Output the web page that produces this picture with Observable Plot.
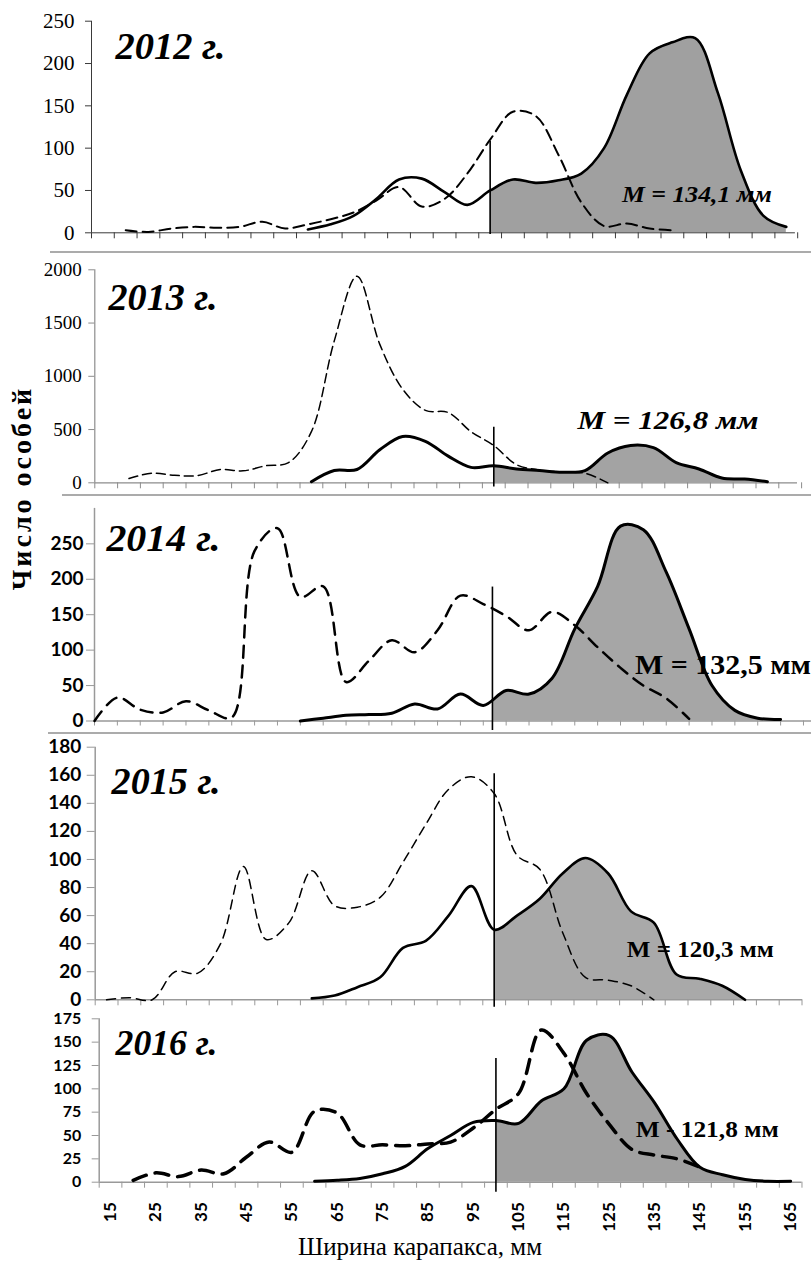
<!DOCTYPE html>
<html lang="ru">
<head>
<meta charset="utf-8">
<script src="https://cdn.jsdelivr.net/npm/d3@7"></script>
<script src="https://cdn.jsdelivr.net/npm/@observablehq/plot@0.6"></script>
<style>
  html, body { margin: 0; padding: 0; background: #fff; }
  #root { position: relative; width: 811px; height: 1263px; overflow: hidden; background: #fff; }
  .sep { position: absolute; height: 0; border-top: 2px solid #ababab; }
</style>
</head>
<body>
<div id="root"></div>
<script>
// ---------------- DATA ----------------
const sizes = [15,20,25,30,35,40,45,50,55,60,65,70,75,80,85,90,95,100,105,110,115,120,125,130,135,140,145,150,155,160,165];
const xLabels = [15,25,35,45,55,65,75,85,95,105,115,125,135,145,155,165];
const years = ["2012 г.", "2013 г.", "2014 г.", "2015 г.", "2016 г."];
const meanLabels = ["M = 134,1 мм", "M = 126,8 мм", "M = 132,5 мм", "M = 120,3 мм", "M - 121,8 мм"];
const cutSize = [100, 100, 102, 100, 100];

const yTicks2012 = [0,50,100,150,200,250];
const yTicks2013 = [0,500,1000,1500,2000];
const yTicks2014 = [0,50,100,150,200,250];
const yTicks2015 = [0,20,40,60,80,100,120,140,160,180];
const yTicks2016 = [0,25,50,75,100,125,150,175];

const dashed2012 = [null,3,1,5,7,6,7,13,5,10,16,24,38,54,31,40,70,110,143,138,92,36,8,11,5,3,null,null,null,null,null];
const solid2012  = [null,null,null,null,null,null,null,null,null,4,10,20,40,63,64,48,33,50,63,59,62,70,100,163,212,225,230,165,74,20,7];

const dashed2013 = [null,40,90,70,68,125,112,160,190,480,1330,1940,1300,880,680,660,480,350,170,120,100,90,0,null,null,null,null,null,null,null,null];
const solid2013  = [null,null,null,null,null,null,null,null,null,10,115,125,310,435,390,250,145,160,130,115,100,115,280,350,330,190,130,45,35,10,null];

const dashed2014 = [0,33,16,12,28,15,5,240,272,175,190,55,85,114,97,128,177,165,148,128,154,135,104,75,50,32,3,null,null,null,null];
const solid2014  = [null,null,null,null,null,null,null,null,null,0,4,8,9,11,24,17,38,22,43,38,60,130,190,275,270,210,130,50,15,4,2];

const dashed2015 = [0,1.5,0,20,19,40,95,43,55,92,67,66,73,98,125,150,159,147,103,93,48,16,14,10,0,null,null,null,null,null,null];
const solid2015  = [null,null,null,null,null,null,null,null,null,1,3,9,16,37,42,60,81,50,60,72,90,101,90,63,55,18,15,10,0,null,null];

const dashed2016 = [null,2,10,6,13,9,27,43,32,76,74,40,40,39,41,43,58,78,95,163,138,95,62,35,29,25,16,null,null,null,null];
const solid2016  = [null,null,null,null,null,null,null,null,null,1,2,4,9,17,36,50,64,66,63,87,100,152,157,118,85,46,16,8,3,1,1];

const series = [
  {dashed: dashed2012, solid: solid2012, yTicks: yTicks2012},
  {dashed: dashed2013, solid: solid2013, yTicks: yTicks2013},
  {dashed: dashed2014, solid: solid2014, yTicks: yTicks2014},
  {dashed: dashed2015, solid: solid2015, yTicks: yTicks2015},
  {dashed: dashed2016, solid: solid2016, yTicks: yTicks2016}
];

// ---------------- LAYOUT / STYLE ----------------
const serif = "'Liberation Serif', 'Times New Roman', serif";
const sans = "Lato, 'Open Sans', sans-serif";

const layout = [
  {top: 0, height: 247, left: 91, step: 22.78, yMax: 250, yMaxPx: 20.7, y0Px: 232.3, onTick: false,
   axisColor: "#3a3a3a", axisW: 1, axisFont: serif, axisSize: 21, axisWeight: "normal", xTick: 6, yTick: 6, yPad: 11,
   fill: "#a0a0a0", solidW: 2.6, dashW: 2, dash: "11,6", axisEnd: 167,
   cutBottom: -2, cutTop: 108,
   yearPos: [17.76, 205.9], yearSize: 38, yearW: 110,
   mPos: [145.4, 36.2], mSize: 24, mW: 150, mItalic: true},
  {top: 254, height: 240, left: 94.3, step: 22.8, yMax: 2000, yMaxPx: 269.3, y0Px: 482.3, onTick: false,
   axisColor: "#8c8c8c", axisW: 1.2, axisFont: serif, axisSize: 19, axisWeight: "normal", xTick: 6, yTick: 6, yPad: 7,
   fill: "#a3a3a3", solidW: 3, dashW: 1.5, dash: "9,5", axisEnd: 166.6,
   cutBottom: -40, cutTop: 522,
   yearPos: [15.5, 1618], yearSize: 38, yearW: 109,
   mPos: [138.2, 507], mSize: 26, mW: 181, mItalic: true},
  {top: 497, height: 236, left: 94, step: 22.87, yMax: 300, yMaxPx: 507.9, y0Px: 720.5, onTick: true,
   axisColor: "#999999", axisW: 1.5, axisFont: sans, axisSize: 19, axisWeight: "bold", xTick: 5, yTick: 8, yPad: 3,
   fill: "#a6a6a6", solidW: 3, dashW: 2.5, dash: "12,8", axisEnd: 171.8,
   cutBottom: -13.4, cutTop: 189,
   yearPos: [17.6, 240.5], yearSize: 38, yearW: 114,
   mPos: [152.4, 67], mSize: 27, mW: 176, mItalic: false},
  {top: 735, height: 275, left: 94.7, step: 22.8, yMax: 180, yMaxPx: 746.7, y0Px: 999.3, onTick: false,
   axisColor: "#999999", axisW: 1.5, axisFont: sans, axisSize: 19, axisWeight: "bold", xTick: 6, yTick: 8, yPad: 6,
   fill: "#a9a9a9", solidW: 2.6, dashW: 1.5, dash: "9,6", axisEnd: 167.6,
   cutBottom: -5.3, cutTop: 161,
   yearPos: [16.1, 147], yearSize: 38, yearW: 109,
   mPos: [145.2, 30.3], mSize: 23, mW: 147, mItalic: false},
  {top: 1008, height: 232, left: 98.7, step: 22.67, yMax: 175, yMaxPx: 1018.3, y0Px: 1181.7, onTick: false,
   axisColor: "#999999", axisW: 1.5, axisFont: sans, axisSize: 16, axisWeight: "bold", xTick: 6, yTick: 7, yPad: 11,
   fill: "#a0a0a0", solidW: 3, dashW: 3.5, dash: "14,9", axisEnd: 167.5,
   cutBottom: -10.7, cutTop: 132.5,
   yearPos: [16.1, 135.7], yearSize: 36, yearW: 102,
   mPos: [146.6, 48.2], mSize: 23, mW: 143, mItalic: false}
];

const root = document.getElementById("root");
const NS = "http://www.w3.org/2000/svg";
const toRows = arr => sizes.map((size, k) => ({size, v: arr[k]})).filter(d => d.v != null);

layout.forEach((L, i) => {
  const S = series[i];
  const dashedRows = toRows(S.dashed);
  const solidRows = toRows(S.solid);
  const x0 = L.onTick ? 15 : 12.5;
  const boundaries = sizes.map(s => L.onTick ? s : s - 2.5).concat([x0 + 155]);
  const marks = [
    Plot.areaY(solidRows, {x: "size", y: "v", curve: "catmull-rom", fill: L.fill}),
    Plot.ruleY([0], {x1: x0, x2: L.axisEnd, stroke: L.axisColor, strokeWidth: L.axisW}),
    Plot.ruleX([x0], {y1: 0, y2: L.yMax, stroke: L.axisColor, strokeWidth: L.axisW}),
    Plot.axisX(boundaries, {tickSize: L.xTick, stroke: L.axisColor, fill: "none", label: null}),
    Plot.axisY(S.yTicks, {tickSize: L.yTick, tickPadding: L.yPad, stroke: L.axisColor, fill: "#000",
      tickFormat: d => String(d), label: null}),
    Plot.lineY(dashedRows, {x: "size", y: "v", curve: "catmull-rom", stroke: "#000",
      strokeWidth: L.dashW, strokeDasharray: L.dash}),
    Plot.lineY(solidRows, {x: "size", y: "v", curve: "catmull-rom", stroke: "#000",
      strokeWidth: L.solidW, strokeLinejoin: "round"}),
    Plot.ruleX([cutSize[i]], {y1: () => L.cutBottom, y2: () => L.cutTop, stroke: "#000", strokeWidth: 1.6}),
    Plot.text([years[i]], {x: () => L.yearPos[0], y: () => L.yearPos[1], text: d => d,
      textAnchor: "start", lineAnchor: "bottom", fontFamily: serif, fontSize: L.yearSize,
      fontWeight: "bold", fontStyle: "italic", fill: "#000"}),
    Plot.text([meanLabels[i]], {x: () => L.mPos[0], y: () => L.mPos[1], text: d => d,
      textAnchor: "middle", lineAnchor: "bottom", fontFamily: serif, fontSize: L.mSize,
      fontWeight: "bold", fontStyle: L.mItalic ? "italic" : "normal", fill: "#000"})
  ];
  if (i === 4) {
    marks.push(Plot.axisX(xLabels, {tickSize: 0, tickPadding: 20, tickRotate: -90, fontFamily: sans,
      fontSize: 17, fontWeight: "bold", fill: "#000", label: null}));
  }
  const svg = Plot.plot({
    width: 811,
    height: L.height,
    marginLeft: L.left,
    marginRight: 811 - (L.left + 31 * L.step),
    marginTop: L.yMaxPx - L.top,
    marginBottom: L.top + L.height - L.y0Px,
    x: {domain: [x0, x0 + 155]},
    y: {domain: [0, L.yMax]},
    style: {background: "transparent", overflow: "visible", fontFamily: L.axisFont,
      fontSize: L.axisSize + "px", fontWeight: L.axisWeight, color: "#000"},
    marks
  });
  // clip the grey fill to the right of the 100-mm line
  const cx = svg.scale("x").apply(cutSize[i]);
  const defs = document.createElementNS(NS, "defs");
  const cp = document.createElementNS(NS, "clipPath");
  cp.setAttribute("id", "cut" + i);
  const r = document.createElementNS(NS, "rect");
  r.setAttribute("x", cx); r.setAttribute("y", -50);
  r.setAttribute("width", 900); r.setAttribute("height", L.height + 100);
  cp.appendChild(r); defs.appendChild(cp);
  svg.insertBefore(defs, svg.firstChild);
  const areaG = svg.querySelector('g[aria-label="area"]');
  if (areaG) areaG.setAttribute("clip-path", `url(#cut${i})`);
  // fit label widths
  svg.querySelectorAll("text").forEach(t => {
    if (t.textContent === years[i]) { t.setAttribute("textLength", L.yearW); t.setAttribute("lengthAdjust", "spacingAndGlyphs"); }
    if (t.textContent === meanLabels[i]) { t.setAttribute("textLength", L.mW); t.setAttribute("lengthAdjust", "spacingAndGlyphs"); }
  });
  svg.style.position = "absolute";
  svg.style.left = "0px";
  svg.style.top = L.top + "px";
  svg.style.maxWidth = "none";
  root.appendChild(svg);
});

// panel separators
[[252, 50], [495, 62], [733, 48]].forEach(([y, x]) => {
  const d = document.createElement("div");
  d.className = "sep";
  d.style.top = (y - 1) + "px";
  d.style.left = x + "px";
  d.style.width = (811 - x) + "px";
  root.appendChild(d);
});

// shared axis titles
const over = document.createElementNS(NS, "svg");
over.setAttribute("width", 811); over.setAttribute("height", 1263);
over.style.position = "absolute"; over.style.left = "0px"; over.style.top = "0px";
over.style.pointerEvents = "none";
const yt = document.createElementNS(NS, "text");
yt.setAttribute("transform", "translate(21,488) rotate(-90)");
yt.setAttribute("text-anchor", "middle");
yt.setAttribute("dominant-baseline", "central");
yt.setAttribute("font-family", serif);
yt.setAttribute("font-weight", "bold");
yt.setAttribute("font-size", "28");
yt.setAttribute("letter-spacing", "3");
yt.textContent = "Число особей";
over.appendChild(yt);
const xt = document.createElementNS(NS, "text");
xt.setAttribute("x", 420); xt.setAttribute("y", 1255);
xt.setAttribute("text-anchor", "middle");
xt.setAttribute("font-family", serif);
xt.setAttribute("font-size", "25");
xt.textContent = "Ширина карапакса, мм";
over.appendChild(xt);
root.appendChild(over);
</script>
</body>
</html>
